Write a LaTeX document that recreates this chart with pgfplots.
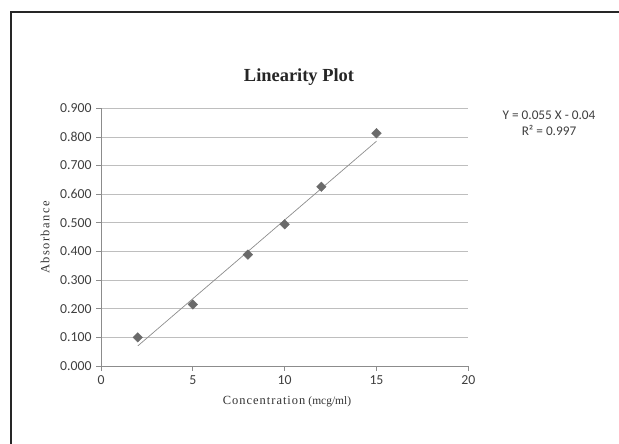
\documentclass[border=0pt]{standalone}
\usepackage{pgfplots}
\pgfplotsset{compat=1.18}
\usepackage{fontspec}
\setmainfont{Liberation Serif}
\newfontfamily\calfont{Carlito}
\definecolor{gridc}{HTML}{BEBEBE}
\definecolor{axisc}{HTML}{8C8C8C}
\definecolor{markc}{HTML}{6A6A6A}
\definecolor{txtc}{HTML}{3F3F3F}
\begin{document}
\begin{tikzpicture}[x=1bp,y=1bp]
\useasboundingbox (0,0) rectangle (619,444);
\draw[line width=1.6bp, color=black!85] (11,-2) -- (11,432) -- (621,432);
\begin{axis}[
  at={(101bp,78bp)}, anchor=south west,
  scale only axis, width=367.3bp, height=257.7bp,
  xmin=0, xmax=20, ymin=0, ymax=0.9,
  axis lines*=left,
  axis line style={color=axisc, line width=0.8bp},
  xtick={0,5,10,15,20},
  ytick={0,0.1,0.2,0.3,0.4,0.5,0.6,0.7,0.8,0.9},
  yticklabel style={/pgf/number format/fixed, /pgf/number format/fixed zerofill, /pgf/number format/precision=3, xshift=-1bp},
  /pgf/number format/assume math mode=true,
  tick label style={font=\calfont\fontsize{13.8}{15}\selectfont, color=txtc},
  tick align=outside, major tick length=5bp,
  tick style={color=axisc, line width=0.8bp},
  ymajorgrids, major grid style={color=gridc, line width=0.8bp},
  xticklabel style={yshift=-1bp},
  clip=false,
]
\addplot[color=axisc, line width=0.7bp] coordinates {(2,0.07) (15,0.785)};
\addplot[only marks, mark=square*, mark size=3.4bp, mark options={rotate=45, fill=markc, draw=markc}]
  coordinates {(2,0.100) (5,0.215) (8,0.389) (10,0.495) (12,0.626) (15,0.813)};
\end{axis}
\node[font=\bfseries\fontsize{18.5}{20}\selectfont, color=black!85] at (299,367) {Linearity Plot};
\node[rotate=90, font=\fontsize{12.5}{14}\selectfont\addfontfeature{LetterSpace=12}, color=black!80] at (45,206.5) {Absorbance};
\node[font=\fontsize{12.5}{14}\selectfont, color=black!80] at (287,42.3) {{\addfontfeature{LetterSpace=8}Concentration} {\fontsize{11.5}{13}\selectfont(mcg/ml)}};
\node[font=\calfont\fontsize{13.3}{15}\selectfont, color=txtc] at (549,328.3) {Y = 0.055 X - 0.04};
\node[font=\calfont\fontsize{13.3}{15}\selectfont, color=txtc] at (549,313.3) {R² = 0.997};
\end{tikzpicture}
\end{document}
